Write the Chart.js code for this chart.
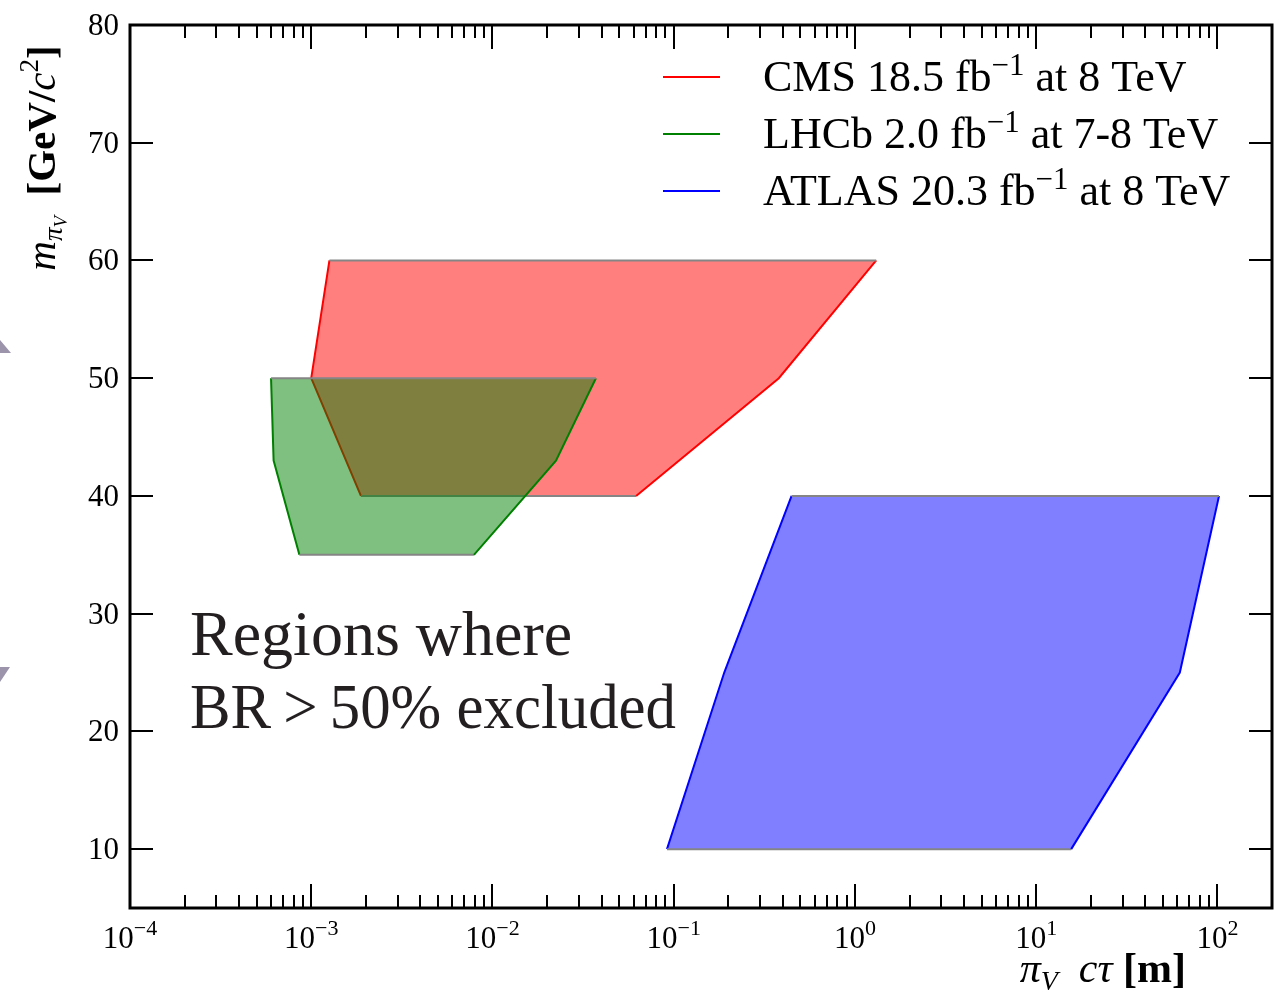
<!DOCTYPE html>
<html>
<head>
<meta charset="utf-8">
<script src="https://cdn.jsdelivr.net/npm/chart.js@4.4.1/dist/chart.umd.min.js"></script>
<style>
  html, body { margin: 0; padding: 0; background: #fff; }
  #wrap { position: relative; width: 1285px; height: 992px; }
  .tri { position: absolute; left: 0; background: #9b94aa; }
</style>
</head>
<body>
<div id="wrap">
  <canvas id="c" width="1285" height="992"></canvas>
  <div class="tri" style="top:340px;width:11px;height:13px;clip-path:polygon(0 0,100% 100%,0 100%)"></div>
  <div class="tri" style="top:667px;width:10px;height:15px;clip-path:polygon(0 0,100% 0,0 100%)"></div>
</div>
<script>
// Excluded regions in the (proper decay length, mass) plane, traced as closed polygons.
const CMS_CTAU   = [1.26e-3, 1.0e-3, 1.88e-3, 0.062, 0.38, 1.31, 1.26e-3];
const CMS_MASS   = [60, 50, 40, 40, 50, 60, 60];
const LHCB_CTAU  = [6.0e-4, 6.2e-4, 8.6e-4, 7.9e-3, 0.0224, 0.0372, 6.0e-4];
const LHCB_MASS  = [50, 43, 35, 35, 43, 50, 50];
const ATLAS_CTAU = [0.447, 0.190, 0.0918, 15.6, 62, 102, 0.447];
const ATLAS_MASS = [40, 25, 10, 10, 25, 40, 40];

const SERIES_LABELS = ['CMS 18.5 fb^{\u22121} at 8 TeV', 'LHCb 2.0 fb^{\u22121} at 7-8 TeV', 'ATLAS 20.3 fb^{\u22121} at 8 TeV'];
const SERIES_COLORS = ['#ff0000', '#008000', '#0000ff'];
const FILL_COLORS   = ['rgba(255,0,0,0.5)', 'rgba(0,128,0,0.5)', 'rgba(0,0,255,0.5)'];
const EDGE_GRAY = '#858585';

const X_MIN = 1e-4, X_MAX = 200;
const Y_MIN = 5, Y_MAX = 80;
const X_DECADES = [-4, -3, -2, -1, 0, 1, 2];
const Y_TICKS = [10, 20, 30, 40, 50, 60, 70, 80];
const NOTE_LINES = ['Regions where', 'BR\u2009>\u200950% excluded'];

const FONT = '"Liberation Serif", "Times New Roman", serif';
const f = (size, style) => (style ? style + ' ' : '') + size + 'px ' + FONT;

function toPoints(xs, ys) { return xs.map((x, i) => ({ x: x, y: ys[i] })); }

function runsWidth(ctx, runs) {
  let w = 0;
  for (const r of runs) { ctx.font = r.font; w += ctx.measureText(r.t).width; }
  return w;
}
function drawRuns(ctx, runs, x, y, align) {
  const w = runsWidth(ctx, runs);
  let cx = align === 'right' ? x - w : align === 'center' ? x - w / 2 : x;
  ctx.textAlign = 'left';
  ctx.textBaseline = 'alphabetic';
  for (const r of runs) {
    ctx.font = r.font;
    ctx.fillText(r.t, cx, y + (r.dy || 0));
    cx += ctx.measureText(r.t).width;
  }
}
// 'text^{sup}text' -> runs with a raised, smaller superscript
function parseLabel(label, size) {
  const runs = [];
  const re = /\^\{([^}]*)\}/g;
  let last = 0, m;
  while ((m = re.exec(label))) {
    if (m.index > last) runs.push({ t: label.slice(last, m.index), font: f(size) });
    runs.push({ t: m[1], font: f(Math.round(size * 0.7)), dy: -size * 0.37 });
    last = re.lastIndex;
  }
  if (last < label.length) runs.push({ t: label.slice(last), font: f(size) });
  return runs;
}

const horizontalEdge = ctx => (ctx.p0.parsed.y === ctx.p1.parsed.y ? EDGE_GRAY : undefined);

// translucent interior of a region
function regionFill(i, xs, ys, order) {
  return {
    label: SERIES_LABELS[i],
    data: toPoints(xs, ys),
    borderColor: 'rgba(0,0,0,0)',
    backgroundColor: FILL_COLORS[i],
    borderWidth: 0,
    pointRadius: 0,
    pointHoverRadius: 0,
    tension: 0,
    fill: 'shape',
    order: order
  };
}
// outline: coloured sides, gray top and bottom
function regionEdge(i, xs, ys, order) {
  return {
    label: SERIES_LABELS[i],
    data: toPoints(xs, ys),
    borderColor: SERIES_COLORS[i],
    borderWidth: 2,
    pointRadius: 0,
    pointHoverRadius: 0,
    tension: 0,
    fill: false,
    order: order,
    segment: { borderColor: horizontalEdge }
  };
}

const frame = {
  id: 'frame',
  afterDraw(chart) {
    const ctx = chart.ctx;
    const { left, right, top, bottom } = chart.chartArea;
    const xs = chart.scales.x, ys = chart.scales.y;
    ctx.save();
    ctx.strokeStyle = '#000';
    ctx.fillStyle = '#000';

    // inward ticks on all four sides
    ctx.lineWidth = 2;
    ctx.beginPath();
    for (const e of X_DECADES) {
      const base = Math.pow(10, e);
      const px = Math.round(xs.getPixelForValue(base));
      ctx.moveTo(px, bottom); ctx.lineTo(px, bottom - 24);
      ctx.moveTo(px, top); ctx.lineTo(px, top + 24);
      for (let k = 2; k <= 9; k++) {
        const v = k * base;
        if (v > X_MAX) break;
        const mx = Math.round(xs.getPixelForValue(v));
        ctx.moveTo(mx, bottom); ctx.lineTo(mx, bottom - 13);
        ctx.moveTo(mx, top); ctx.lineTo(mx, top + 13);
      }
    }
    for (const v of Y_TICKS) {
      const py = Math.round(ys.getPixelForValue(v));
      ctx.moveTo(left, py); ctx.lineTo(left + 23, py);
      ctx.moveTo(right, py); ctx.lineTo(right - 23, py);
    }
    ctx.stroke();

    // axes box
    ctx.lineWidth = 3;
    ctx.strokeRect(left, top, right - left, bottom - top);

    // tick labels
    for (const e of X_DECADES) {
      const px = xs.getPixelForValue(Math.pow(10, e));
      const exp = e < 0 ? '\u2212' + (-e) : String(e);
      drawRuns(ctx, [{ t: '10', font: f(31) }, { t: exp, font: f(22), dy: -13 }], px, 948, 'center');
    }
    ctx.font = f(31);
    ctx.textAlign = 'right';
    ctx.textBaseline = 'alphabetic';
    for (const v of Y_TICKS) {
      ctx.fillText(String(v), left - 11, ys.getPixelForValue(v) + 10);
    }

    // axis titles
    drawRuns(ctx, [
      { t: '\u03c0', font: f(42, 'italic') },
      { t: 'V', font: f(28, 'italic'), dy: 8 },
      { t: '  c\u03c4 ', font: f(42, 'italic') },
      { t: '[m]', font: f(42, 'bold') }
    ], 1186, 982, 'right');

    ctx.save();
    ctx.translate(55, 158);
    ctx.rotate(-Math.PI / 2);
    drawRuns(ctx, [
      { t: 'm', font: f(41, 'italic') },
      { t: '\u03c0', font: f(27, 'italic'), dy: 7 },
      { t: 'V', font: f(19, 'italic'), dy: 12 },
      { t: '  [GeV/', font: f(41, 'bold') },
      { t: 'c', font: f(41, 'italic') },
      { t: '2', font: f(27), dy: -17 },
      { t: ']', font: f(41, 'bold') }
    ], 0, 0, 'center');
    ctx.restore();

    // legend
    SERIES_LABELS.forEach((label, i) => {
      const y = 77 + i * 57;
      ctx.strokeStyle = SERIES_COLORS[i];
      ctx.lineWidth = 2;
      ctx.beginPath();
      ctx.moveTo(663, y); ctx.lineTo(720, y);
      ctx.stroke();
      ctx.fillStyle = '#000';
      drawRuns(ctx, parseLabel(label, 44), 763, y + 14, 'left');
    });

    // annotation
    ctx.fillStyle = '#231f20';
    ctx.font = f(64);
    ctx.textAlign = 'left';
    ctx.textBaseline = 'alphabetic';
    ctx.fillText(NOTE_LINES[0], 190, 655);
    ctx.fillText(NOTE_LINES[1], 190, 728, 486);
    ctx.restore();
  }
};

new Chart(document.getElementById('c'), {
  type: 'line',
  data: {
    datasets: [
      regionFill(0, CMS_CTAU, CMS_MASS, 6),
      regionEdge(0, CMS_CTAU, CMS_MASS, 5),
      regionFill(1, LHCB_CTAU, LHCB_MASS, 4),
      regionEdge(1, LHCB_CTAU, LHCB_MASS, 3),
      regionFill(2, ATLAS_CTAU, ATLAS_MASS, 2),
      regionEdge(2, ATLAS_CTAU, ATLAS_MASS, 1)
    ]
  },
  options: {
    responsive: false,
    animation: false,
    events: [],
    layout: { padding: { left: 130, top: 25, right: 13, bottom: 84 } },
    scales: {
      x: { type: 'logarithmic', min: X_MIN, max: X_MAX, display: false },
      y: { type: 'linear', min: Y_MIN, max: Y_MAX, display: false }
    },
    plugins: {
      legend: { display: false },
      tooltip: { enabled: false },
      filler: { propagate: false }
    }
  },
  plugins: [frame]
});
</script>
</body>
</html>
